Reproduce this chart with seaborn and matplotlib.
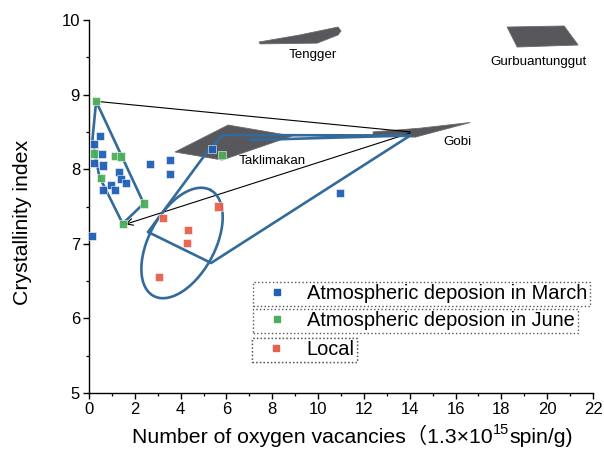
import numpy as np
import pandas as pd
import matplotlib
matplotlib.use("Agg")
import matplotlib.pyplot as plt
from matplotlib.lines import Line2D
from matplotlib.patches import Polygon
import seaborn as sns

# ---- sample measurements -------------------------------------------------
march_x = [0.13, 0.49, 0.20, 0.57, 0.20, 0.62, 1.30, 0.96, 1.13, 1.40, 1.62,
           0.61, 2.65, 3.55, 3.55, 5.36, 10.96]
march_y = [7.10, 8.45, 8.34, 8.20, 8.08, 8.05, 7.96, 7.79, 7.72, 7.87, 7.82,
           7.72, 8.07, 8.12, 7.94, 8.27, 7.68]

june_x = [0.31, 0.20, 1.15, 1.41, 0.54, 2.39, 1.47, 5.79]
june_y = [8.91, 8.21, 8.18, 8.17, 7.88, 7.54, 7.27, 8.19]

local_x = [3.22, 5.65, 4.31, 4.29, 3.07]
local_y = [7.34, 7.50, 7.19, 7.01, 6.55]

group_names = ["Atmospheric deposion in March",
               "Atmospheric deposion in June",
               "Local"]
group_colors = ["#1f5fb4", "#4cae5a", "#e8604c"]

# ---- desert source regions (outline vertices) ----------------------------
tengger = [(7.42, 9.705), (9.21, 9.80), (10.87, 9.906), (11.0, 9.853),
           (10.87, 9.80), (9.96, 9.69), (7.47, 9.68)]
gurbuantunggut = [(18.25, 9.906), (20.74, 9.92), (21.35, 9.665), (18.69, 9.638)]
gobi = [(12.40, 8.50), (14.45, 8.55), (16.64, 8.626), (14.24, 8.43), (12.40, 8.445)]
taklimakan = [(3.755, 8.231), (6.07, 8.592), (8.865, 8.445), (5.81, 8.123)]

region_labels = ["Tengger", "Gurbuantunggut", "Gobi", "Taklimakan"]
region_label_pos = [(9.78, 9.53), (19.6, 9.44), (16.07, 8.365), (7.99, 8.11)]

# ---- grouping outlines ----------------------------------------------------
june_hull = [(0.31, 8.91), (2.39, 7.54), (1.47, 7.27), (0.45, 7.90),
             (0.15, 8.40), (0.31, 8.91)]
march_path_a = [(2.576, 7.158), (5.153, 8.231), (5.85, 8.458), (14.02, 8.452),
                (7.03, 8.391)]
march_path_b = [(14.02, 8.452), (5.33, 6.743), (2.576, 7.158)]
ellipse_center = (4.06, 7.011)
ellipse_u = (1.245, 0.710)
ellipse_v = (1.266, -0.210)

# transport lines
line_top = [(0.31, 8.91), (14.02, 8.50)]
arrow_start = (14.02, 8.485)
arrow_end = (1.57, 7.26)

# ---- styling --------------------------------------------------------------
sns.set_style("ticks")
plt.rcParams["font.family"] = ["Liberation Sans", "Noto Sans CJK SC"]
plt.rcParams.update({
    "axes.linewidth": 1.0,
    "text.color": "black",
    "axes.labelcolor": "black",
    "axes.edgecolor": "black",
    "xtick.color": "black",
    "ytick.color": "black",
})

fig = plt.figure(figsize=(6.04, 4.54), dpi=100)
ax = fig.add_axes([0.1474, 0.1344, 0.8344, 0.8215])

df = pd.DataFrame({
    "x": march_x + june_x + local_x,
    "y": march_y + june_y + local_y,
    "group": ([group_names[0]] * len(march_x) + [group_names[1]] * len(june_x)
              + [group_names[2]] * len(local_x)),
})

# desert regions
for verts in (tengger, gurbuantunggut, gobi, taklimakan):
    ax.add_patch(Polygon(verts, closed=True, facecolor="#58585c",
                         edgecolor="#6a6a6e", lw=0.6, zorder=1))
for name, (lx, ly) in zip(region_labels, region_label_pos):
    ax.text(lx, ly, name, fontsize=9.6, ha="center", va="center", zorder=6)

# thin black transport lines
ax.plot(*zip(*line_top), color="black", lw=0.8, zorder=2)
ax.annotate("", xy=arrow_end, xytext=arrow_start,
            arrowprops=dict(arrowstyle="->", color="black", lw=0.8,
                            shrinkA=0, shrinkB=0, mutation_scale=12),
            zorder=2)

# blue group outlines
outline_kw = dict(color="#336a9c", lw=1.9, solid_joinstyle="round", zorder=3)
ax.plot(*zip(*june_hull), **outline_kw)
ax.plot(*zip(*march_path_a), **outline_kw)
ax.plot(*zip(*march_path_b), **outline_kw)
t = np.linspace(0, 2 * np.pi, 200)
ex = ellipse_center[0] + ellipse_u[0] * np.cos(t) + ellipse_v[0] * np.sin(t)
ey = ellipse_center[1] + ellipse_u[1] * np.cos(t) + ellipse_v[1] * np.sin(t)
ax.plot(ex, ey, **outline_kw)

# sample points
sns.scatterplot(data=df, x="x", y="y", hue="group", hue_order=group_names,
                palette=group_colors, marker="s", s=34, linewidth=0.4,
                edgecolor="#ffffff", alpha=0.95, legend=False, ax=ax, zorder=4)

# axes
ax.set_xlim(0, 22)
ax.set_ylim(5, 10)
ax.set_xticks(range(0, 23, 2))
ax.set_xticks(range(0, 23, 1), minor=True)
ax.set_yticks(range(5, 11))
ax.set_yticks(np.arange(5, 10.01, 0.5), minor=True)
ax.tick_params(which="major", direction="out", length=4.5, width=1.0,
               labelsize=12, color="black", labelcolor="black", pad=2)
ax.tick_params(which="minor", direction="out", length=2.5, width=0.9,
               color="black")
ax.set_xlabel("")
ax.set_ylabel("")
sns.despine(ax=ax)
for s in ("left", "bottom"):
    ax.spines[s].set_color("black")

# axis titles
fig.text(23 / 604, 1 - 222 / 454, "Crystallinity index", rotation=90,
         ha="center", va="center", fontsize=15.3, color="black")
t1 = fig.text(0.218, 0.0242, "Number of oxygen vacancies（1.3×10",
              ha="left", va="baseline", fontsize=15.3, color="black")
t2 = ax.annotate("15", xy=(1, 0.0242), xycoords=(t1, "figure fraction"),
                 xytext=(0.5, 6.5), textcoords="offset points",
                 ha="left", va="baseline", fontsize=10.5, color="black",
                 annotation_clip=False)
t3 = ax.annotate("spin/g)", xy=(1, 0.0242), xycoords=(t2, "figure fraction"),
                 xytext=(0.3, 0), textcoords="offset points",
                 ha="left", va="baseline", fontsize=15.3, color="black",
                 annotation_clip=False)

# separate legend boxes, one per group
legend_anchor = [(253 / 604, 1 - 282 / 454),
                 (253 / 604, 1 - 309 / 454),
                 (252 / 604, 1 - 338 / 454)]
for name, col, anchor in zip(group_names, group_colors, legend_anchor):
    handle = Line2D([], [], ls="", marker="s", ms=5, color=col,
                    markeredgecolor=col)
    leg = ax.legend([handle], [name], loc="upper left", bbox_to_anchor=anchor,
                    bbox_transform=fig.transFigure, borderaxespad=0,
                    fontsize=14.4, frameon=True, fancybox=False,
                    borderpad=0.12, handlelength=2.2, handletextpad=0.4)
    fr = leg.get_frame()
    fr.set_edgecolor("#555555")
    fr.set_linestyle(":")
    fr.set_linewidth(1.0)
    fr.set_facecolor("white")
    fr.set_alpha(1)
    for txt in leg.get_texts():
        txt.set_color("black")
    ax.add_artist(leg)

fig.savefig("out.png", dpi=100)
